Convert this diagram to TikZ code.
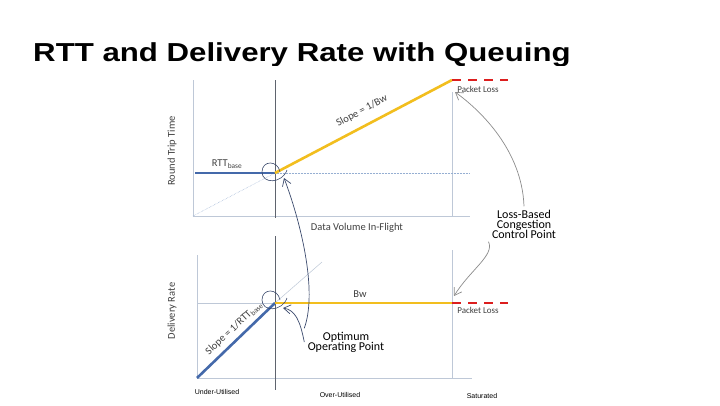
\documentclass[tikz,border=0pt]{standalone}
\usepackage{fontspec}
\setmainfont{Carlito}
\newfontfamily\titlefont{Liberation Sans}
\usepackage{xcolor}
\definecolor{AxisGrey}{RGB}{190,200,215}
\definecolor{LineDark}{RGB}{95,100,110}
\definecolor{RttBlue}{RGB}{68,105,170}
\definecolor{BwYellow}{RGB}{242,190,30}
\definecolor{LossRed}{RGB}{220,30,30}
\definecolor{PenBlue}{RGB}{60,75,110}
\definecolor{PenGrey}{RGB}{140,140,140}
\definecolor{DotBlue}{RGB}{150,175,210}
\usetikzlibrary{arrows.meta}

\tikzset{
  axisline/.style={color=AxisGrey, line width=0.8pt},
  markline/.style={color=LineDark, line width=0.5pt},
  rttline/.style={color=RttBlue, line width=2.6pt},
  bwline/.style={color=BwYellow, line width=2.6pt},
  lossline/.style={color=LossRed, line width=2.6pt, dash pattern=on 9pt off 7pt},
  guide/.style={color=DotBlue, line width=0.5pt, densely dotted},
  chartlabel/.style={font=\fontsize{10.5}{12}\selectfont, color=black!75},
  smalllabel/.style={font=\fontsize{9}{10}\selectfont, color=black!75},
  handnote/.style={font=\fontsize{12}{13}\selectfont, align=center},
  zonelabel/.style={font=\titlefont\fontsize{7}{8}\selectfont},
  penarrow/.style={color=PenGrey, line width=0.7pt, -{Straight Barb[length=7pt, width=9pt]}},
  bluearrow/.style={color=PenBlue, line width=0.7pt, -{Straight Barb[length=7pt, width=9pt]}}
}

\begin{document}
\begin{tikzpicture}[x=1pt, y=-1pt]

		\useasboundingbox[fill=white] (0,0) rectangle (720,405);

		% Title
		\begin{scope}
		\clip (0,0) rectangle (720,65);
		\node[anchor=base west, xscale=1.2, font=\titlefont\bfseries\fontsize{26}{27}\selectfont, inner sep=0pt] (title) at (33,61) {RTT and Delivery Rate with Queuing};
		\end{scope}

		% Points
		\coordinate (topopt) at (275,173);
		\coordinate (toploss) at (452,80);
		\coordinate (botopt) at (275,303);
		\coordinate (botloss) at (452,303);

		% Axes top
		\draw[axisline] (193,80) -- (193,216) -- (470,216);
		\draw[axisline] (452,92) -- (452,216);
		\draw[markline] (275,80) -- (275,218);
		\draw[guide] (193,216) -- (topopt);
		\draw[guide] (topopt) -- (470,173);

		% Axes bottom
		\draw[axisline] (197,255) -- (197,378) -- (472,378);
		\draw[axisline] (452,250) -- (452,378);
		\draw[axisline, line width=0.5pt] (197,303) -- (botopt);
		\draw[axisline, line width=0.5pt] (botopt) -- (322,262);
		\draw[markline] (275,236) -- (275,390);

		% Lines
		\draw[rttline] (195,173) -- (topopt);
		\draw[bwline] (topopt) -- (toploss);
		\draw[lossline] (toploss) -- (508,80);
		\draw[rttline] (197,378) -- (botopt);
		\draw[bwline] (botopt) -- (botloss);
		\draw[lossline] (botloss) -- (508,303);

		% Labels
		\node[chartlabel, rotate=90] (rttaxis) at (172,151) {Round Trip Time};
		\node[chartlabel] (dvaxis) at (357,228) {Data Volume In-Flight};
		\node[chartlabel, rotate=90] (draxis) at (172,311) {Delivery Rate};
		\node[chartlabel] (rttbase) at (227,164) {RTT\textsubscript{base}};
		\node[chartlabel, rotate=27.7] (slopebw) at (362,111) {Slope = 1/Bw};
		\node[chartlabel, rotate=43] (slopertt) at (234,328) {Slope = 1/RTT\textsubscript{base}};
		\node[chartlabel] (bw) at (360,294) {Bw};
		\node[smalllabel] (losstop) at (478,89) {Packet Loss};
		\node[smalllabel] (lossbot) at (478,310) {Packet Loss};

		% Notes
		\node[handnote] (lossnote) at (524,224) {Loss-Based\\[-3pt]Congestion\\[-3pt]Control Point};
		\node[handnote] (optnote) at (346,342) {Optimum\\[-3pt]Operating Point};

		% Loops
		\draw[PenBlue, line width=0.6pt] (280,172) .. controls (278,160) and (262,160) .. (262,172) .. controls (262,184) and (282,184) .. (287,170);
		\draw[PenBlue, line width=0.6pt] (280,300) .. controls (278,288) and (262,288) .. (262,300) .. controls (262,312) and (282,312) .. (287,298);

		% Arrows
		\draw[penarrow] (lossnote.north) .. controls (522,150) and (480,110) .. (455,92);
		\draw[penarrow] (lossnote.south west) .. controls (495,255) and (470,270) .. (454,296);
		\draw[bluearrow] (optnote.north west) .. controls (318,290) and (300,220) .. (284,178);
		\draw[bluearrow] (optnote.west) .. controls (300,320) and (295,310) .. (283,308);

		% Zones
		\node[zonelabel] (under) at (217,392) {Under-Utilised};
		\node[zonelabel] (over) at (340,395) {Over-Utilised};
		\node[zonelabel] (sat) at (482,396) {Saturated};

	\end{tikzpicture}
\end{document}
